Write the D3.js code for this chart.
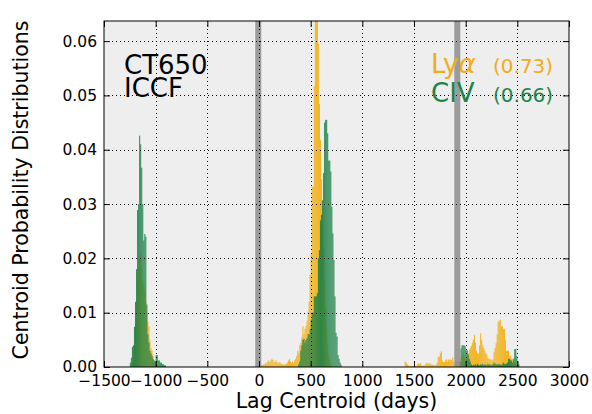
<!DOCTYPE html>
<html>
<head>
<meta charset="utf-8">
<script src="https://cdn.jsdelivr.net/npm/d3@7"></script>
<style>
  body { margin: 0; background: #fff; }
  text { font-family: "DejaVu Sans", sans-serif; }
</style>
</head>
<body>
<div id="container"></div>
<script>
// histogram bins, 10 days wide, values are probability per bin
const binWidth = 10;

const lyaLeftStart = -1240;
const lyaLeft = [0.0005, 0.001, 0.002, 0.004, 0.008, 0.012, 0.016, 0.018, 0.02, 0.021,
  0.018, 0.016, 0.015, 0.014, 0.012, 0.010, 0.0083, 0.0075, 0.005, 0.0035,
  0.003, 0.002, 0.0012, 0.001, 0.0008, 0.0005, 0.0003, 0.0002];

const lyaMainStart = 20;
const lyaMain = [0.0003, 0.0003, 0.0005, 0.0005, 0.0008, 0.0006, 0.001, 0.0012, 0.0008, 0.0012,
  0.0015, 0.0013, 0.0008, 0.001, 0.0012, 0.0008, 0.0006, 0.0009, 0.0008, 0.0006,
  0.0005, 0.0005, 0.0004, 0.0005, 0.0006, 0.0008, 0.0012, 0.0015, 0.001, 0.0008,
  0.001, 0.0007, 0.0012, 0.0015, 0.002, 0.003, 0.0025, 0.004, 0.0045, 0.0055,
  0.0075, 0.006, 0.007, 0.0075, 0.0085, 0.0102, 0.012, 0.017, 0.021, 0.0332,
  0.0332, 0.0517, 0.066, 0.065, 0.0637, 0.0595, 0.0484, 0.0418, 0.0346, 0.028,
  0.022, 0.016, 0.011, 0.007, 0.004, 0.002, 0.001, 0.0005];

const lyaFarStart = 1400;
const lyaFar = [0, 0.001, 0.0008, 0.0005, 0.0003, 0, 0.0002, 0.0002, 0.0001, 0.0002,
  0.0002, 0.0002, 0.0002, 0.0005, 0.0007, 0.0005, 0.0007, 0.0003, 0.0002, 0.0003,
  0.0003, 0.0006, 0.0007, 0.0007, 0.0006, 0.0007, 0.0005, 0.0004, 0.0004, 0.0003,
  0.0003, 0.0004, 0.0008, 0.0019, 0.0019, 0.0026, 0.0029, 0.0012, 0.0009, 0.0009,
  0.0012, 0.0014, 0.001, 0.0014, 0.0012, 0.0014, 0.0013, 0.0018, 0.001, 0.0005,
  0.001, 0.001, 0.001, 0.001, 0.001, 0.0015, 0.002, 0.0025, 0.002, 0.0015,
  0.0015, 0.002, 0.0025, 0.003, 0.0035, 0.0039, 0.0045, 0.005, 0.0059, 0.0045,
  0.003, 0.0025, 0.0025, 0.004, 0.0062, 0.005, 0.004, 0.0035, 0.0031, 0.0025,
  0.0023, 0.0017, 0.0015, 0.0014, 0.0014, 0.0012, 0.0014, 0.0028, 0.0035, 0.0044,
  0.006, 0.0083, 0.0085, 0.0087, 0.0075, 0.0075, 0.007, 0.007, 0.005, 0.003,
  0.003, 0.003, 0.002, 0.002, 0.0015, 0.0015, 0.001, 0.0008, 0.0005, 0.0003];

const civLeftStart = -1250;
const civLeft = [0.0008, 0.0017, 0.0037, 0.004, 0.0074, 0.012, 0.018, 0.0289, 0.030, 0.0426,
  0.041, 0.0367, 0.030, 0.0233, 0.0245, 0.024, 0.0115, 0.006, 0.0045, 0.003,
  0.0025, 0.002, 0.0015, 0.0012, 0.001, 0.0022, 0.0022, 0.0012, 0.0012, 0.0008,
  0.0008, 0.0005, 0.0005, 0.0003, 0.0003];

const civMainStart = 380;
const civMain = [0.0005, 0.001, 0.003, 0.004, 0.005, 0.0052, 0.0045, 0.005, 0.0053, 0.006,
  0.006, 0.007, 0.0087, 0.01, 0.01, 0.013, 0.013, 0.013, 0.0136, 0.02,
  0.0215, 0.027, 0.028, 0.0307, 0.0357, 0.045, 0.0455, 0.0455, 0.043, 0.038,
  0.038, 0.036, 0.0295, 0.0246, 0.0197, 0.013, 0.0063, 0.0056, 0.0022, 0.0015,
  0.0008, 0.0004];

const civFarStart = 1940;
const civFar = [0.001, 0.0034, 0.004, 0.004, 0.004, 0.0038, 0.0031, 0.0031, 0.0023, 0.0015,
  0.001, 0.0005, 0.0003, 0.0004, 0.0003, 0.0005, 0.0003, 0.0006, 0.0004, 0.0003,
  0.0005, 0.0004, 0.0006, 0.0003, 0.0005, 0.0004, 0.0003, 0.0006, 0.0004, 0.0005,
  0.0003, 0.0004, 0.0005, 0.0008, 0.0006, 0.0005, 0.0004, 0.0006, 0.0005, 0.0004,
  0.0004, 0.0005, 0.0008, 0.0006, 0.0005, 0.0006, 0.0008, 0.0015, 0.0015, 0.0012,
  0.0012, 0.0008, 0.0015, 0.0033, 0.0033, 0.002, 0.001, 0.0005];

// grey bands marking excluded lags
const bandStarts = [-36, 1890];
const bandEnds = [22, 1948];

const xTicks = [-1500, -1000, -500, 0, 500, 1000, 1500, 2000, 2500, 3000];
const yTicks = [0, 0.01, 0.02, 0.03, 0.04, 0.05, 0.06];

const lyaColor = "#f2aa00",
      civColor = "#1b7f46";

let margin = {top: 21, left: 104, right: 23, bottom: 47},
    width = 592 - margin.left - margin.right,
    height = 414 - margin.top - margin.bottom;

function toBins(start, values) {
  return values.map(function(v, i) { return {x0: start + i * binWidth, v: v}; });
}

let lyaBins = toBins(lyaLeftStart, lyaLeft)
  .concat(toBins(lyaMainStart, lyaMain))
  .concat(toBins(lyaFarStart, lyaFar));

let civBins = toBins(civLeftStart, civLeft)
  .concat(toBins(civMainStart, civMain))
  .concat(toBins(civFarStart, civFar));

let svg = d3.select("#container")
  .append("svg")
  .attr("width", 592)
  .attr("height", 414);

let x = d3.scaleLinear().domain([-1500, 3000]).range([0, width]);
let y = d3.scaleLinear().domain([0, 0.0637]).range([height, 0]);

let g = svg.append("g")
  .attr("transform", "translate(" + margin.left + "," + margin.top + ")");

g.append("clipPath").attr("id", "clip")
  .append("rect").attr("width", width).attr("height", height);

g.append("rect")
  .attr("width", width)
  .attr("height", height)
  .attr("fill", "#eeeeee");

let plot = g.append("g").attr("clip-path", "url(#clip)");

function drawBars(bins, color, opacity) {
  plot.append("g")
    .selectAll("rect")
    .data(bins.filter(function(d) { return d.v > 0; }))
    .enter().append("rect")
      .attr("x", function(d) { return x(d.x0); })
      .attr("width", function(d) { return x(d.x0 + binWidth) - x(d.x0); })
      .attr("y", function(d) { return y(d.v); })
      .attr("height", function(d) { return height - y(d.v); })
      .attr("fill", color)
      .attr("fill-opacity", opacity);
}

drawBars(lyaBins, lyaColor, 0.85);
drawBars(civBins, civColor, 0.9);

// grey bands
plot.append("g")
  .selectAll("rect")
  .data(bandStarts)
  .enter().append("rect")
    .attr("x", function(d) { return x(d); })
    .attr("width", function(d, i) { return x(bandEnds[i]) - x(d); })
    .attr("y", 0)
    .attr("height", height)
    .attr("fill", "#8c8c8c")
    .attr("fill-opacity", 0.85);

// dotted grid
let grid = g.append("g")
  .attr("stroke", "#000")
  .attr("stroke-width", 1)
  .attr("stroke-dasharray", "1,3");

grid.selectAll(".gx")
  .data(xTicks.slice(1, -1))
  .enter().append("line")
    .attr("x1", function(d) { return Math.round(x(d)) + 0.5; })
    .attr("x2", function(d) { return Math.round(x(d)) + 0.5; })
    .attr("y1", 0)
    .attr("y2", height);

grid.selectAll(".gy")
  .data(yTicks.slice(1))
  .enter().append("line")
    .attr("x1", 0)
    .attr("x2", width)
    .attr("y1", function(d) { return Math.round(y(d)) + 0.5; })
    .attr("y2", function(d) { return Math.round(y(d)) + 0.5; });

// frame
g.append("rect")
  .attr("width", width)
  .attr("height", height)
  .attr("fill", "none")
  .attr("stroke", "#000")
  .attr("stroke-width", 1);

// inward ticks on all sides
let fmtX = function(d) { return d < 0 ? "\u2212" + Math.abs(d) : String(d); };

let xAxis = g.append("g")
  .attr("transform", "translate(0," + height + ")")
  .call(d3.axisBottom(x).tickValues(xTicks).tickFormat(fmtX).tickSizeInner(-6).tickSizeOuter(0).tickPadding(8));

let xTop = g.append("g")
  .call(d3.axisTop(x).tickValues(xTicks).tickFormat("").tickSizeInner(-6).tickSizeOuter(0));

let yAxis = g.append("g")
  .call(d3.axisLeft(y).tickValues(yTicks).tickFormat(d3.format(".2f")).tickSizeInner(-6).tickSizeOuter(0).tickPadding(7));

let yRight = g.append("g")
  .attr("transform", "translate(" + width + ",0)")
  .call(d3.axisRight(y).tickValues(yTicks).tickFormat("").tickSizeInner(-6).tickSizeOuter(0));

[xAxis, xTop, yAxis, yRight].forEach(function(a) {
  a.select(".domain").remove();
  a.selectAll("line").attr("stroke", "#000").attr("stroke-width", 1);
  a.selectAll("text")
    .style("font-family", "DejaVu Sans")
    .style("font-size", "15.5px")
    .attr("fill", "#000");
});

// axis labels
svg.append("text")
  .attr("x", margin.left + width / 2)
  .attr("y", 408)
  .attr("text-anchor", "middle")
  .style("font-size", "20.5px")
  .text("Lag Centroid (days)");

svg.append("text")
  .attr("transform", "translate(28," + (margin.top + height / 2 - 4) + ") rotate(-90)")
  .attr("text-anchor", "middle")
  .style("font-size", "20.5px")
  .text("Centroid Probability Distributions");

// annotations
svg.append("text").attr("x", 124).attr("y", 74).style("font-size", "26px").text("CT650");
svg.append("text").attr("x", 124).attr("y", 97).style("font-size", "26px").text("ICCF");

let lya = svg.append("text").attr("x", 431).attr("y", 73)
  .style("font-size", "26px").attr("fill", "#f2ac18");
lya.append("tspan").text("Ly");
lya.append("tspan").style("font-style", "italic").text("\u03b1");

svg.append("text").attr("x", 493).attr("y", 73)
  .style("font-size", "20px").attr("fill", "#f2ac18").text("(0.73)");

svg.append("text").attr("x", 431).attr("y", 102)
  .style("font-size", "26px").attr("fill", "#1d8448").text("CIV");

svg.append("text").attr("x", 493).attr("y", 102)
  .style("font-size", "20px").attr("fill", "#1d8448").text("(0.66)");
</script>
</body>
</html>
